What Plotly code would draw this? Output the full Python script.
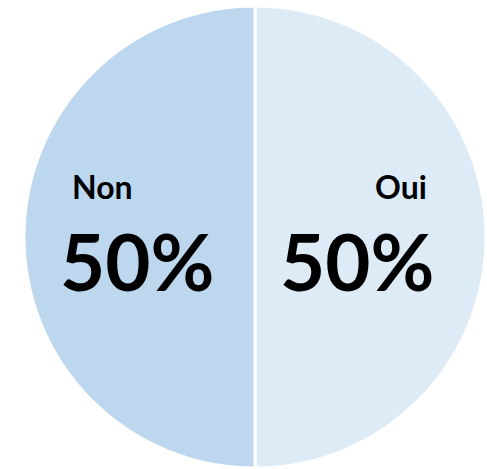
import plotly.graph_objects as go

labels = ["Oui", "Non"]
values = [50, 50]
colors = ["#DDEBF7", "#BDD7EE"]

# label placement (pixel centres in a 487x469 canvas)
W, H = 487, 469
name_pos = {"Oui": (401, 187), "Non": (102, 187)}
pct_pos = {"Oui": (357, 261), "Non": (137, 261)}

total = sum(values)

fig = go.Figure(go.Pie(
    labels=labels,
    values=values,
    sort=False,
    direction="clockwise",
    rotation=0,
    marker=dict(colors=colors, line=dict(color="white", width=3)),
    textinfo="none",
    hoverinfo="label+percent",
    showlegend=False,
    domain=dict(x=[24 / W, 486 / W], y=[1 - 468 / H, 1 - 6 / H]),
))

annotations = []
for lab, val in zip(labels, values):
    pct = f"{round(val / total * 100)}%"
    nx, ny = name_pos[lab]
    px, py = pct_pos[lab]
    annotations.append(dict(
        text=f"<b>{lab}</b>", x=nx / W, y=1 - ny / H, xref="paper", yref="paper",
        showarrow=False, xanchor="center", yanchor="middle",
        font=dict(family="Lato", size=32, color="black"),
    ))
    annotations.append(dict(
        text=f"<b>{pct}</b>", x=px / W, y=1 - py / H, xref="paper", yref="paper",
        showarrow=False, xanchor="center", yanchor="middle",
        font=dict(family="Lato", size=78, color="black"),
    ))

fig.update_layout(
    width=W, height=H,
    margin=dict(l=0, r=0, t=0, b=0),
    paper_bgcolor="white",
    plot_bgcolor="white",
    annotations=annotations,
)

fig.write_html("out.html", config={"displayModeBar": False},
               post_script="document.body.style.margin='0';")
